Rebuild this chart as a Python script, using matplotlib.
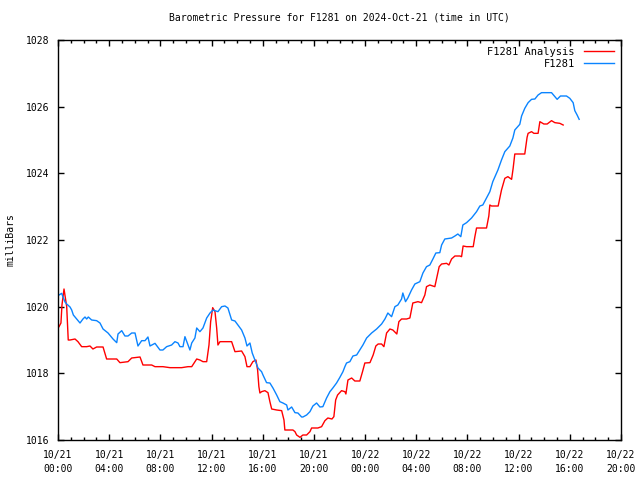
import matplotlib
matplotlib.use("Agg")
import matplotlib.pyplot as plt
from matplotlib.ticker import MultipleLocator

# Hours since 2024-10-21 00:00 UTC
f1281_hours = [0.08, 0.29, 0.39, 0.55, 0.68, 0.94, 1.07, 1.20, 1.46, 1.72, 1.95, 2.11, 2.24, 2.37, 2.63,
               3.02, 3.28, 3.52, 3.91, 4.30, 4.59, 4.69, 4.98, 5.23, 5.47, 5.76, 6.02, 6.25, 6.54, 6.80,
               7.03, 7.19, 7.58, 7.97, 8.20, 8.49, 8.88, 9.14, 9.38, 9.53, 9.77, 9.92, 10.16, 10.31,
               10.45, 10.70, 10.84, 11.09, 11.33, 11.62, 11.88, 12.11, 12.50, 12.79, 13.05, 13.28,
               13.57, 13.83, 14.06, 14.35, 14.61, 14.77, 15.00, 15.18, 15.39, 15.63, 15.91, 16.02,
               16.30, 16.56, 16.80, 17.09, 17.34, 17.58, 17.87, 17.97, 18.26, 18.52, 18.75, 19.04,
               19.14, 19.43, 19.69, 19.92, 20.21, 20.47, 20.70, 20.99, 21.25, 21.48, 21.77, 22.03,
               22.27, 22.42, 22.55, 22.81, 23.05, 23.34, 23.59, 23.83, 24.12, 24.51, 24.90, 25.29,
               25.55, 25.78, 26.07, 26.33, 26.56, 26.85, 26.95, 27.16, 27.34, 27.63, 27.89, 28.28,
               28.52, 28.80, 29.06, 29.30, 29.53, 29.84, 29.98, 30.23, 30.76, 31.02, 31.25, 31.48,
               31.64, 31.93, 32.32, 32.71, 32.97, 33.20, 33.49, 33.75, 33.98, 34.38, 34.66, 34.92,
               35.31, 35.55, 35.70, 36.09, 36.23, 36.48, 36.74, 37.01, 37.27, 37.52, 37.79, 38.57,
               38.83, 39.01, 39.27, 39.74, 40.00, 40.26, 40.39, 40.57, 40.73]
f1281_mb = [1020.35, 1020.40, 1020.29, 1020.14, 1020.08, 1019.99, 1019.90, 1019.75, 1019.63, 1019.51,
            1019.63, 1019.69, 1019.63, 1019.69, 1019.60, 1019.58, 1019.51, 1019.33, 1019.21, 1019.03,
            1018.92, 1019.18, 1019.28, 1019.12, 1019.12, 1019.21, 1019.21, 1018.82, 1018.98, 1018.98,
            1019.09, 1018.82, 1018.90, 1018.70, 1018.70, 1018.80, 1018.85, 1018.95, 1018.91, 1018.80,
            1018.80, 1019.10, 1018.85, 1018.70, 1018.91, 1019.06, 1019.36, 1019.25, 1019.36, 1019.66,
            1019.81, 1019.90, 1019.85, 1020.00, 1020.02, 1019.96, 1019.60, 1019.57, 1019.45, 1019.30,
            1019.06, 1018.82, 1018.91, 1018.61, 1018.40, 1018.16, 1018.05, 1017.95, 1017.72, 1017.71,
            1017.56, 1017.35, 1017.15, 1017.11, 1017.05, 1016.90, 1016.99, 1016.82, 1016.81, 1016.69,
            1016.69, 1016.75, 1016.85, 1017.02, 1017.11, 1016.99, 1017.00, 1017.26, 1017.45, 1017.56,
            1017.71, 1017.88, 1018.05, 1018.20, 1018.31, 1018.35, 1018.52, 1018.55, 1018.70, 1018.85,
            1019.06, 1019.21, 1019.33, 1019.48, 1019.63, 1019.81, 1019.70, 1020.00, 1020.05, 1020.23,
            1020.41, 1020.15, 1020.26, 1020.50, 1020.68, 1020.75, 1021.01, 1021.20, 1021.25, 1021.43,
            1021.61, 1021.62, 1021.85, 1022.03, 1022.06, 1022.12, 1022.18, 1022.10, 1022.45, 1022.52,
            1022.66, 1022.85, 1023.02, 1023.05, 1023.26, 1023.45, 1023.75, 1024.10, 1024.40, 1024.65,
            1024.82, 1025.06, 1025.30, 1025.47, 1025.72, 1025.95, 1026.12, 1026.22, 1026.23, 1026.35,
            1026.42, 1026.42, 1026.30, 1026.22, 1026.32, 1026.32, 1026.25, 1026.12, 1025.88, 1025.75,
            1025.62]

analysis_hours = [0.08, 0.23, 0.31, 0.47, 0.68, 0.80, 0.94, 1.33, 1.56, 1.85, 2.24, 2.50, 2.73, 3.02,
                  3.52, 3.80, 4.59, 4.84, 5.47, 5.76, 6.41, 6.64, 7.32, 7.58, 8.20, 8.75, 9.66, 10.16,
                  10.45, 10.84, 11.09, 11.33, 11.62, 11.80, 11.93, 12.09, 12.19, 12.27, 12.40, 12.50,
                  12.66, 13.57, 13.83, 14.35, 14.61, 14.77, 15.00, 15.23, 15.47, 15.60, 15.70, 15.78,
                  15.91, 16.17, 16.41, 16.56, 16.70, 17.09, 17.48, 17.66, 17.73, 18.36, 18.52, 18.65,
                  18.91, 19.14, 19.43, 19.69, 19.82, 20.31, 20.60, 20.86, 21.09, 21.41, 21.56, 21.70,
                  21.85, 22.16, 22.42, 22.50, 22.66, 22.95, 23.20, 23.59, 23.80, 23.98, 24.38, 24.63,
                  24.84, 25.02, 25.29, 25.47, 25.68, 25.94, 26.17, 26.48, 26.64, 26.85, 27.24, 27.50,
                  27.73, 28.13, 28.41, 28.67, 28.80, 29.06, 29.45, 29.63, 29.79, 29.98, 30.37, 30.55,
                  30.76, 31.02, 31.41, 31.54, 31.66, 31.93, 32.45, 32.58, 32.71, 33.49, 33.67, 33.75,
                  33.88, 34.40, 34.66, 34.92, 35.16, 35.45, 35.57, 35.70, 36.48, 36.66, 36.74, 37.01,
                  37.19, 37.52, 37.66, 37.79, 37.97, 38.23, 38.57, 38.83, 39.22, 39.48]
analysis_mb = [1019.40, 1019.51, 1020.05, 1020.53, 1020.00, 1019.00, 1019.00, 1019.03, 1018.95, 1018.80,
               1018.80, 1018.82, 1018.73, 1018.79, 1018.79, 1018.43, 1018.43, 1018.32, 1018.35, 1018.46,
               1018.49, 1018.25, 1018.25, 1018.20, 1018.20, 1018.17, 1018.17, 1018.20, 1018.20, 1018.43,
               1018.40, 1018.35, 1018.35, 1018.85, 1019.55, 1019.97, 1019.90, 1019.85, 1019.36, 1018.85,
               1018.95, 1018.95, 1018.65, 1018.67, 1018.50, 1018.20, 1018.20, 1018.35, 1018.40, 1018.10,
               1017.60, 1017.41, 1017.45, 1017.48, 1017.42, 1017.15, 1016.93, 1016.90, 1016.88, 1016.60,
               1016.30, 1016.30, 1016.25, 1016.15, 1016.08, 1016.15, 1016.15, 1016.25, 1016.36, 1016.36,
               1016.40, 1016.58, 1016.66, 1016.63, 1016.70, 1017.20, 1017.35, 1017.48, 1017.45, 1017.38,
               1017.80, 1017.86, 1017.77, 1017.77, 1018.05, 1018.31, 1018.32, 1018.55, 1018.82, 1018.88,
               1018.88, 1018.80, 1019.21, 1019.33, 1019.30, 1019.18, 1019.55, 1019.63, 1019.63, 1019.66,
               1020.11, 1020.15, 1020.12, 1020.35, 1020.60, 1020.65, 1020.60, 1020.92, 1021.20, 1021.28,
               1021.30, 1021.25, 1021.43, 1021.52, 1021.52, 1021.50, 1021.82, 1021.80, 1021.80, 1022.10,
               1022.36, 1022.36, 1022.72, 1023.05, 1023.02, 1023.02, 1023.50, 1023.85, 1023.90, 1023.82,
               1024.15, 1024.58, 1024.58, 1025.08, 1025.20, 1025.25, 1025.20, 1025.20, 1025.55, 1025.52,
               1025.48, 1025.48, 1025.58, 1025.52, 1025.50, 1025.45]

x_tick_hours = [0, 4, 8, 12, 16, 20, 24, 28, 32, 36, 40, 44]
x_tick_labels = ["10/21\n00:00", "10/21\n04:00", "10/21\n08:00", "10/21\n12:00", "10/21\n16:00",
                 "10/21\n20:00", "10/22\n00:00", "10/22\n04:00", "10/22\n08:00", "10/22\n12:00",
                 "10/22\n16:00", "10/22\n20:00"]
y_ticks = [1016, 1018, 1020, 1022, 1024, 1026, 1028]

plt.rcParams['font.family'] = ['DejaVu Sans Mono']
fs = 7

fig = plt.figure(figsize=(6.4, 4.8), dpi=100)
ax = fig.add_axes([58/640, 40/480, (621-58)/640, 400/480])

ax.plot(analysis_hours, analysis_mb, color='#ff0000', lw=1.0, label='F1281 Analysis')
ax.plot(f1281_hours, f1281_mb, color='#0a84ff', lw=1.0, label='F1281')

ax.set_xlim(0, 44)
ax.set_ylim(1016, 1028)
ax.set_xticks(x_tick_hours)
ax.set_xticklabels(x_tick_labels, fontsize=fs, linespacing=1.5)
ax.xaxis.set_minor_locator(MultipleLocator(1))
ax.set_yticks(y_ticks)
ax.set_yticklabels([str(v) for v in y_ticks], fontsize=fs)

ax.tick_params(which='both', direction='in', top=True, right=True, width=1, color='black')
ax.tick_params(which='major', length=4.5, pad=6)
ax.tick_params(axis='x', which='major', pad=7)
ax.tick_params(which='minor', length=2.5)
for s in ax.spines.values():
    s.set_linewidth(1)
    s.set_color('black')

ax.set_ylabel('milliBars', fontsize=fs, labelpad=8)
ax.set_title('Barometric Pressure for F1281 on 2024-Oct-21 (time in UTC)', fontsize=fs, pad=14)

leg = ax.legend(loc='upper right', frameon=False, markerfirst=False, fontsize=fs + 0.5,
                handlelength=2.9, borderaxespad=0.35, labelspacing=0.2, handletextpad=0.9,
                borderpad=0.3)
for t in leg.get_texts():
    t.set_ha('right')

fig.savefig('out.png', dpi=100)
